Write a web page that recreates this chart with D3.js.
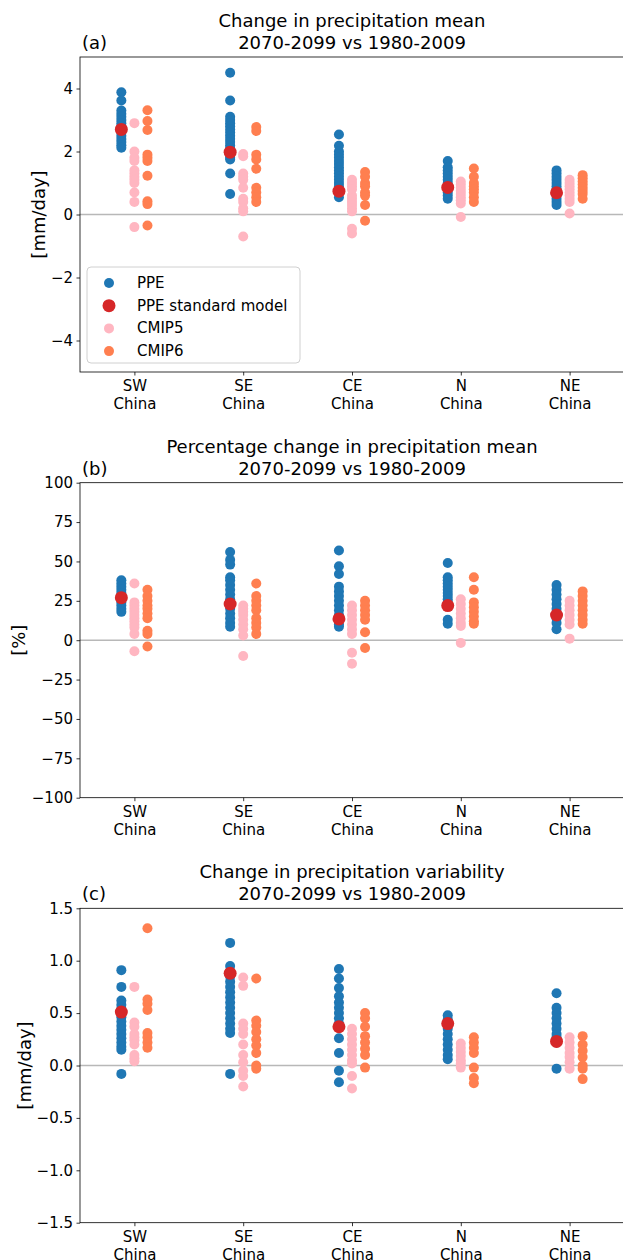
<!DOCTYPE html>
<html>
<head>
<meta charset="utf-8">
<script src="https://cdn.jsdelivr.net/npm/d3@7"></script>
<style>
  html, body { margin: 0; padding: 0; background: #fff; }
  svg { display: block; font-family: "DejaVu Sans", sans-serif; }
</style>
</head>
<body>
<script>
// Regions shown along the x axis
const regions = ["SW\nChina", "SE\nChina", "CE\nChina", "N\nChina", "NE\nChina"];

// (a) change in precipitation mean [mm/day]
const meanPPE = [
  [3.88, 3.62, 3.3, 3.2, 3.1, 3.0, 2.9, 2.8, 2.7, 2.6, 2.5, 2.4, 2.3, 2.2, 2.12],
  [4.5, 3.62, 3.1, 3.0, 2.9, 2.8, 2.7, 2.6, 2.5, 2.4, 2.3, 2.2, 2.1, 2.0, 1.9, 1.8, 1.75, 1.3, 0.65],
  [2.54, 2.18, 2.0, 1.9, 1.8, 1.7, 1.6, 1.5, 1.4, 1.3, 1.2, 1.1, 1.0, 0.9, 0.8, 0.7, 0.55],
  [1.7, 1.5, 1.4, 1.3, 1.2, 1.1, 1.0, 0.9, 0.8, 0.7, 0.6, 0.5],
  [1.4, 1.3, 1.2, 1.1, 1.0, 0.9, 0.8, 0.7, 0.6, 0.5, 0.4, 0.3]
];
const meanStd = [2.7, 1.98, 0.74, 0.86, 0.69];
const meanCMIP5 = [
  [2.9, 2.0, 1.8, 1.7, 1.4, 1.3, 1.2, 1.1, 1.0, 0.7, 0.4, -0.4],
  [1.92, 1.85, 1.3, 1.2, 1.1, 0.85, 0.5, 0.4, 0.2, 0.1, -0.7],
  [1.1, 1.0, 0.9, 0.8, 0.6, 0.5, 0.4, 0.3, 0.2, 0.1, -0.45, -0.6],
  [1.05, 0.95, 0.85, 0.75, 0.65, 0.55, 0.45, 0.35, -0.08],
  [1.1, 1.0, 0.9, 0.8, 0.7, 0.6, 0.5, 0.4, 0.03]
];
const meanCMIP6 = [
  [3.31, 2.97, 2.68, 1.9, 1.8, 1.7, 1.23, 0.42, 0.33, -0.35],
  [2.78, 2.65, 1.9, 1.75, 1.45, 0.85, 0.7, 0.55, 0.4],
  [1.35, 1.2, 1.0, 0.9, 0.7, 0.6, 0.3, -0.2],
  [1.46, 1.2, 1.0, 0.9, 0.8, 0.7, 0.55, 0.4],
  [1.25, 1.15, 1.05, 0.95, 0.85, 0.75, 0.65, 0.5]
];

// (b) percentage change in precipitation mean [%]
const pctPPE = [
  [38, 36, 34, 32, 30, 28, 26, 24, 22, 20, 18],
  [56, 51, 48, 40, 38, 35, 32, 29, 26, 23, 20, 17, 14, 11, 8.5],
  [57, 47, 42, 34, 31, 28, 25, 22, 19, 16, 13, 10, 8.5],
  [49, 40, 38, 36, 34, 32, 30, 28, 26, 24, 22, 13, 10.5],
  [35, 32, 29, 26, 23, 20, 17, 14, 11, 7]
];
const pctStd = [27, 23, 13.5, 22, 16];
const pctCMIP5 = [
  [36, 24, 22, 20, 18, 16, 14, 12, 10, 8, 4, -7],
  [22, 20, 18, 16, 13, 10, 7, 3, -10],
  [22, 19, 16, 13, 10, 7, 4, -8, -15],
  [26, 23, 20, 17, 14, 11, 9, -1.7],
  [25, 22, 19, 16, 13, 10, 1]
];
const pctCMIP6 = [
  [32, 28, 25, 22, 20, 17, 14, 6, 4, -4],
  [36, 28, 25, 22, 19, 14, 11, 8, 4],
  [25, 22, 19, 16, 13, 5, -5],
  [40, 32, 24, 21, 18, 15, 12, 10.5],
  [31, 28, 25, 22, 19, 16, 13, 10.5]
];

// (c) change in precipitation variability [mm/day]
const varPPE = [
  [0.91, 0.75, 0.62, 0.58, 0.54, 0.5, 0.46, 0.42, 0.38, 0.34, 0.3, 0.26, 0.22, 0.18, 0.15, -0.08],
  [1.17, 0.95, 0.9, 0.85, 0.8, 0.75, 0.7, 0.65, 0.6, 0.55, 0.5, 0.45, 0.4, 0.35, 0.31, -0.08],
  [0.92, 0.83, 0.74, 0.66, 0.6, 0.55, 0.5, 0.45, 0.4, 0.37, 0.26, 0.12, -0.05, -0.16],
  [0.48, 0.44, 0.4, 0.35, 0.3, 0.25, 0.2, 0.15, 0.1, 0.06],
  [0.69, 0.55, 0.5, 0.45, 0.4, 0.35, 0.3, 0.27, 0.22, -0.03]
];
const varStd = [0.51, 0.88, 0.37, 0.4, 0.23];
const varCMIP5 = [
  [0.75, 0.41, 0.37, 0.3, 0.27, 0.24, 0.2, 0.1, 0.07, 0.04],
  [0.84, 0.76, 0.4, 0.35, 0.3, 0.2, 0.1, 0.03, -0.05, -0.1, -0.2],
  [0.35, 0.3, 0.25, 0.2, 0.15, 0.1, 0.05, 0.02, -0.1, -0.22],
  [0.21, 0.17, 0.13, 0.09, 0.05, 0.02, -0.02],
  [0.27, 0.22, 0.17, 0.12, 0.08, 0.03, -0.03]
];
const varCMIP6 = [
  [1.31, 0.63, 0.59, 0.53, 0.31, 0.27, 0.22, 0.17],
  [0.83, 0.43, 0.38, 0.32, 0.25, 0.19, 0.12, 0.0, -0.03],
  [0.5, 0.45, 0.37, 0.28, 0.22, 0.16, 0.1, -0.02],
  [0.27, 0.22, 0.17, 0.12, -0.02, -0.12, -0.17],
  [0.28, 0.2, 0.14, 0.08, 0.0, -0.03, -0.13]
];

// Tick values for each panel
const ticksA = [-4, -2, 0, 2, 4];
const ticksB = [-100, -75, -50, -25, 0, 25, 50, 75, 100];
const ticksC = [-1.5, -1.0, -0.5, 0.0, 0.5, 1.0, 1.5];

const seriesNames = ["PPE", "PPE standard model", "CMIP5", "CMIP6"];
const colors = { ppe: "#1f77b4", std: "#d62728", cmip5: "#ffb6c1", cmip6: "#ff7f50" };

const W = 623, H = 1260;
const svg = d3.select("body").append("svg").attr("width", W).attr("height", H);

const panels = [
  { tag: "(a)", title: ["Change in precipitation mean", "2070-2099 vs 1980-2009"],
    ylabel: "[mm/day]", domain: [-5, 5], ticks: ticksA, fmt: d3.format("d"),
    top: 57, bottom: 372, ylabelX: 38,
    ppe: meanPPE, std: meanStd, c5: meanCMIP5, c6: meanCMIP6, legend: true },
  { tag: "(b)", title: ["Percentage change in precipitation mean", "2070-2099 vs 1980-2009"],
    ylabel: "[%]", domain: [-100, 100], ticks: ticksB, fmt: d3.format("d"),
    top: 482.7, bottom: 797.7, ylabelX: 18,
    ppe: pctPPE, std: pctStd, c5: pctCMIP5, c6: pctCMIP6, legend: false },
  { tag: "(c)", title: ["Change in precipitation variability", "2070-2099 vs 1980-2009"],
    ylabel: "[mm/day]", domain: [-1.5, 1.5], ticks: ticksC, fmt: d3.format(".1f"),
    top: 908.3, bottom: 1222.7, ylabelX: 24,
    ppe: varPPE, std: varStd, c5: varCMIP5, c6: varCMIP6, legend: false }
];

const left = 80, right = 624;
const x = d3.scalePoint().domain(regions).range([left, right]).padding(0.5);
const off = x.step() * 0.12;

panels.forEach(p => {
  const g = svg.append("g");
  const y = d3.scaleLinear().domain(p.domain).range([p.bottom, p.top]);

  // zero reference line
  g.append("line")
    .attr("x1", left).attr("x2", right)
    .attr("y1", y(0)).attr("y2", y(0))
    .attr("stroke", "#b8b8b8").attr("stroke-width", 1.5);

  const drawSet = (vals, dx, color, r) => {
    regions.forEach((reg, i) => {
      g.append("g").selectAll("circle")
        .data(vals[i]).join("circle")
        .attr("cx", x(reg) + dx)
        .attr("cy", d => y(d))
        .attr("r", r)
        .attr("fill", color);
    });
  };
  drawSet(p.ppe, -off, colors.ppe, 5);
  g.append("g").selectAll("circle")
    .data(p.std).join("circle")
    .attr("cx", (d, i) => x(regions[i]) - off)
    .attr("cy", d => y(d))
    .attr("r", 6.5)
    .attr("fill", colors.std);
  drawSet(p.c5, 0, colors.cmip5, 5);
  drawSet(p.c6, off, colors.cmip6, 5);

  // axes
  const yAxis = d3.axisLeft(y).tickValues(p.ticks).tickFormat(p.fmt).tickSize(3.5).tickPadding(3.5);
  const ya = g.append("g").attr("transform", `translate(${left},0)`).call(yAxis);
  ya.select(".domain").remove();
  ya.selectAll("text").attr("font-size", 15).attr("fill", "#000").attr("font-family", "DejaVu Sans");
  ya.selectAll("line").attr("stroke", "#000").attr("stroke-width", 0.8);

  const xAxis = d3.axisBottom(x).tickSize(3.5).tickFormat("");
  const xa = g.append("g").attr("transform", `translate(0,${p.bottom})`).call(xAxis);
  xa.select(".domain").remove();
  xa.selectAll("line").attr("stroke", "#000").attr("stroke-width", 0.8);
  xa.selectAll(".tick").each(function(d) {
    const t = d3.select(this).append("text")
      .attr("text-anchor", "middle").attr("font-size", 15).attr("fill", "#000")
      .attr("font-family", "DejaVu Sans");
    d.split("\n").forEach((line, k) => {
      t.append("tspan").attr("x", 0).attr("y", 19 + k * 18).text(line);
    });
  });

  // frame
  g.append("rect")
    .attr("x", left).attr("y", p.top)
    .attr("width", right - left).attr("height", p.bottom - p.top)
    .attr("fill", "none").attr("stroke", "#000").attr("stroke-width", 0.8);

  // titles
  const cx = (left + right) / 2;
  g.append("text").attr("x", cx).attr("y", p.top - 30)
    .attr("text-anchor", "middle").attr("font-size", 18).text(p.title[0]);
  g.append("text").attr("x", cx).attr("y", p.top - 8)
    .attr("text-anchor", "middle").attr("font-size", 18).text(p.title[1]);
  g.append("text").attr("x", left + 2).attr("y", p.top - 8)
    .attr("font-size", 18).text(p.tag);

  // y label
  g.append("text")
    .attr("transform", `translate(${p.ylabelX},${(p.top + p.bottom) / 2}) rotate(-90)`)
    .attr("text-anchor", "middle").attr("dominant-baseline", "central")
    .attr("font-size", 18).text(p.ylabel);

  if (p.legend) {
    const lg = g.append("g").attr("transform", "translate(87,267)");
    lg.append("rect").attr("width", 213).attr("height", 96).attr("rx", 4)
      .attr("fill", "#fff").attr("fill-opacity", 0.8)
      .attr("stroke", "#d0d0d0").attr("stroke-width", 1);
    const items = [
      { name: seriesNames[0], color: colors.ppe, r: 5 },
      { name: seriesNames[1], color: colors.std, r: 6.5 },
      { name: seriesNames[2], color: colors.cmip5, r: 5 },
      { name: seriesNames[3], color: colors.cmip6, r: 5 }
    ];
    items.forEach((it, k) => {
      const yy = 16 + k * 22.7;
      lg.append("circle").attr("cx", 22).attr("cy", yy).attr("r", it.r).attr("fill", it.color);
      lg.append("text").attr("x", 50).attr("y", yy).attr("dominant-baseline", "central")
        .attr("font-size", 15).text(it.name);
    });
  }
});
</script>
</body>
</html>
